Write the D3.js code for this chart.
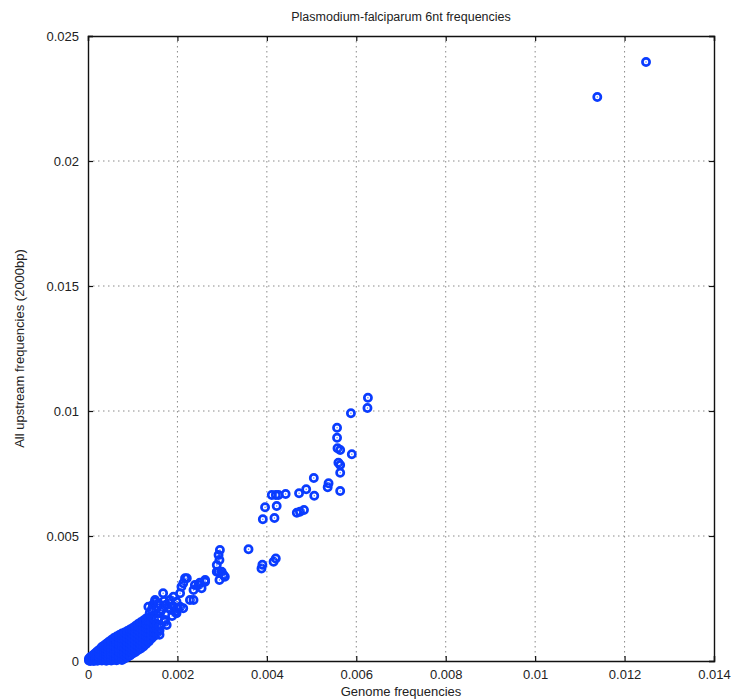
<!DOCTYPE html>
<html>
<head>
<meta charset="utf-8">
<script src="https://cdn.jsdelivr.net/npm/d3@7"></script>
<style>
  body { margin: 0; background: #fff; }
  text { font-family: "Liberation Sans", Arial, sans-serif; fill: #222; }
</style>
</head>
<body>
<div id="chart"></div>
<script>
// values, in units of 1e-3 : [genome, upstream]
var unit = 1e-3;

// dense band near the origin, listed column by column
var denseBand = [
  [0.02,0.02],[0.02,0.09],
  [0.05,0.00],[0.05,0.07],[0.05,0.15],
  [0.09,0.03],[0.09,0.11],[0.09,0.20],
  [0.13,0.00],[0.13,0.08],[0.13,0.17],[0.13,0.26],
  [0.17,0.04],[0.17,0.13],[0.17,0.22],[0.17,0.32],
  [0.21,0.01],[0.21,0.10],[0.21,0.19],[0.21,0.29],[0.21,0.39],
  [0.26,0.04],[0.26,0.14],[0.26,0.25],[0.26,0.36],[0.26,0.46],
  [0.31,0.02],[0.31,0.12],[0.31,0.23],[0.31,0.34],[0.31,0.45],[0.31,0.56],
  [0.36,0.05],[0.36,0.16],[0.36,0.28],[0.36,0.40],[0.36,0.52],[0.36,0.62],
  [0.41,0.01],[0.41,0.12],[0.41,0.24],[0.41,0.36],[0.41,0.48],[0.41,0.60],[0.41,0.69],
  [0.46,0.04],[0.46,0.16],[0.46,0.29],[0.46,0.42],[0.46,0.55],[0.46,0.67],[0.46,0.76],
  [0.52,0.02],[0.52,0.13],[0.52,0.26],[0.52,0.39],[0.52,0.52],[0.52,0.65],[0.52,0.77],[0.52,0.84],
  [0.58,0.05],[0.58,0.18],[0.58,0.32],[0.58,0.46],[0.58,0.60],[0.58,0.74],[0.58,0.86],[0.58,0.92],
  [0.64,0.03],[0.64,0.14],[0.64,0.28],[0.64,0.42],[0.64,0.56],[0.64,0.70],[0.64,0.84],[0.64,0.98],
  [0.70,0.08],[0.70,0.22],[0.70,0.36],[0.70,0.50],[0.70,0.64],[0.70,0.78],[0.70,0.92],[0.70,1.04],
  [0.76,0.04],[0.76,0.16],[0.76,0.30],[0.76,0.45],[0.76,0.60],[0.76,0.75],[0.76,0.90],[0.76,1.02],[0.76,1.10],
  [0.82,0.10],[0.82,0.24],[0.82,0.39],[0.82,0.54],[0.82,0.70],[0.82,0.86],[0.82,1.00],[0.82,1.14],
  [0.88,0.16],[0.88,0.30],[0.88,0.46],[0.88,0.62],[0.88,0.78],[0.88,0.94],[0.88,1.08],[0.88,1.20],
  [0.94,0.22],[0.94,0.38],[0.94,0.54],[0.94,0.70],[0.94,0.86],[0.94,1.02],[0.94,1.16],[0.94,1.26],
  [1.00,0.30],[1.00,0.45],[1.00,0.60],[1.00,0.76],[1.00,0.92],[1.00,1.08],[1.00,1.22],[1.00,1.32],
  [1.06,0.36],[1.06,0.52],[1.06,0.68],[1.06,0.84],[1.06,1.00],[1.06,1.16],[1.06,1.30],[1.06,1.40],
  [1.12,0.44],[1.12,0.60],[1.12,0.76],[1.12,0.92],[1.12,1.08],[1.12,1.24],[1.12,1.38],[1.12,1.48],
  [1.18,0.50],[1.18,0.66],[1.18,0.83],[1.18,1.00],[1.18,1.16],[1.18,1.32],[1.18,1.46],[1.18,1.55],
  [1.24,0.58],[1.24,0.74],[1.24,0.90],[1.24,1.06],[1.24,1.22],[1.24,1.38],[1.24,1.52],[1.24,1.62],
  [1.30,0.68],[1.30,0.84],[1.30,1.00],[1.30,1.16],[1.30,1.32],[1.30,1.48],[1.30,1.62],[1.30,1.70],
  [1.36,0.78],[1.36,0.94],[1.36,1.10],[1.36,1.26],[1.36,1.42],[1.36,1.58],[1.36,1.72],
  [1.42,0.90],[1.42,1.06],[1.42,1.22],[1.42,1.38],[1.42,1.55],[1.42,1.80],
  [1.48,1.00],[1.48,1.16],[1.48,1.32],[1.48,1.50],[1.48,1.68],
  [1.54,1.12],[1.54,1.30],[1.54,1.48],
  [1.60,1.05],[1.60,1.22],[1.60,1.40]
];

// loose cluster between 0.0013 and 0.003
var midCluster = [
  [1.35,2.17],[1.38,1.92],[1.42,2.04],[1.45,2.25],[1.50,2.37],[1.50,2.44],[1.55,2.15],
  [1.57,1.71],[1.58,2.30],[1.61,1.91],[1.61,1.97],[1.65,2.05],[1.68,2.71],[1.70,2.40],
  [1.72,1.57],[1.72,1.64],[1.75,2.25],[1.76,1.44],[1.80,2.12],[1.83,2.31],[1.83,2.44],
  [1.85,2.05],[1.88,1.80],[1.90,2.20],[1.91,2.57],[1.95,1.97],[1.98,1.91],[1.98,2.37],
  [2.00,2.10],[2.06,2.17],[2.06,2.71],[2.09,2.97],[2.13,2.11],[2.13,3.11],[2.17,3.31],
  [2.21,3.31],[2.28,2.44],[2.36,2.44],[2.36,2.84],[2.39,3.04],[2.47,3.04],[2.50,3.13],
  [2.54,2.91],[2.62,3.17],[2.62,3.24]
];

// column near 0.003 and the group around 0.004 to 0.006
var upperCluster = [
  [2.88,3.57],[2.88,3.84],[2.92,3.57],[2.92,4.24],[2.94,3.24],[2.94,4.04],[2.95,4.44],
  [2.99,3.57],[3.03,3.44],[3.06,3.37],
  [3.59,4.47],[3.88,3.70],[3.90,3.85],[4.15,3.97],[4.20,4.10],
  [3.91,5.67],[3.96,6.15],[4.17,5.72],[4.22,6.20],[4.11,6.64],[4.20,6.64],[4.26,6.64],
  [4.42,6.68],[4.67,5.93],[4.74,5.97],[4.83,6.04],[4.72,6.71],[4.88,6.87],[5.06,6.61],
  [5.05,7.32],[5.36,6.95],[5.38,7.11],[5.64,6.80],
  [5.57,9.33],[5.57,8.93],[5.58,8.51],[5.64,8.44],[5.90,8.27],[5.60,7.93],[5.64,7.84],
  [5.64,7.53],[5.88,9.91],[6.26,10.53],[6.25,10.12]
];

// the two isolated points at the top right
var outliers = [
  [11.39,22.56],[12.48,23.96]
];

var xTicks = [0, 0.002, 0.004, 0.006, 0.008, 0.01, 0.012, 0.014];
var yTicks = [0, 0.005, 0.01, 0.015, 0.02, 0.025];

var width = 737, height = 700;
var margin = {top: 36, right: 23, bottom: 39, left: 88};
var w = width - margin.left - margin.right,
    h = height - margin.top - margin.bottom;

var svg = d3.select('#chart').append('svg')
    .attr('width', width)
    .attr('height', height);

var xScale = d3.scaleLinear().domain([0, 0.014]).range([0, w]),
    yScale = d3.scaleLinear().domain([0, 0.025]).range([h, 0]);

var fmt = function(d) { return d === 0 ? '0' : String(+d.toFixed(3)); };

var g = svg.append('g')
    .attr('transform', 'translate(' + margin.left + ',' + margin.top + ')');

// dotted grid
g.append('g').selectAll('line')
    .data(xTicks.slice(1, -1))
    .enter().append('line')
    .attr('x1', function(d) { return xScale(d); })
    .attr('x2', function(d) { return xScale(d); })
    .attr('y1', 0).attr('y2', h)
    .attr('stroke', '#8a8a8a').attr('stroke-width', 1)
    .attr('stroke-dasharray', '1.5,3.5');

g.append('g').selectAll('line')
    .data(yTicks.slice(1, -1))
    .enter().append('line')
    .attr('y1', function(d) { return yScale(d); })
    .attr('y2', function(d) { return yScale(d); })
    .attr('x1', 0).attr('x2', w)
    .attr('stroke', '#8a8a8a').attr('stroke-width', 1)
    .attr('stroke-dasharray', '1.5,3.5');

// axes with inward ticks on all four sides
var xAxis = d3.axisBottom(xScale).tickValues(xTicks).tickSize(-5).tickPadding(9).tickFormat(fmt);
var yAxis = d3.axisLeft(yScale).tickValues(yTicks).tickSize(-5).tickPadding(9).tickFormat(fmt);

g.append('g').attr('transform', 'translate(0,' + h + ')').call(xAxis);
g.append('g').call(yAxis);
g.append('g').call(d3.axisTop(xScale).tickValues(xTicks).tickSize(-5).tickFormat(''));
g.append('g').attr('transform', 'translate(' + w + ',0)')
    .call(d3.axisRight(yScale).tickValues(yTicks).tickSize(-5).tickFormat(''));

g.selectAll('.domain').attr('stroke', '#111').attr('stroke-width', 1.4);
g.selectAll('.tick line').attr('stroke', '#111').attr('stroke-width', 1.2);
g.selectAll('.tick text').style('font-size', '13px').style('fill', '#222');

// markers
var allPoints = denseBand.concat(midCluster, upperCluster, outliers);
var marks = g.append('g').selectAll('g')
    .data(allPoints)
    .enter().append('g')
    .attr('transform', function(d) {
      return 'translate(' + xScale(d[0] * unit) + ',' + yScale(d[1] * unit) + ')';
    });
marks.append('circle')
    .attr('r', 3.6)
    .attr('fill', 'none')
    .attr('stroke', '#0a3cff')
    .attr('stroke-width', 2.7);
marks.append('circle')
    .attr('r', 0.7)
    .attr('fill', '#4a70ff');

// titles
svg.append('text')
    .attr('x', margin.left + w / 2).attr('y', 21)
    .attr('text-anchor', 'middle')
    .style('font-size', '12.5px')
    .text('Plasmodium-falciparum 6nt frequencies');

svg.append('text')
    .attr('x', margin.left + w / 2).attr('y', 696)
    .attr('text-anchor', 'middle')
    .style('font-size', '13px')
    .text('Genome frequencies');

svg.append('text')
    .attr('transform', 'translate(24,' + (margin.top + h / 2) + ') rotate(-90)')
    .attr('text-anchor', 'middle')
    .style('font-size', '13px')
    .text('All upstream frequencies (2000bp)');
</script>
</body>
</html>
